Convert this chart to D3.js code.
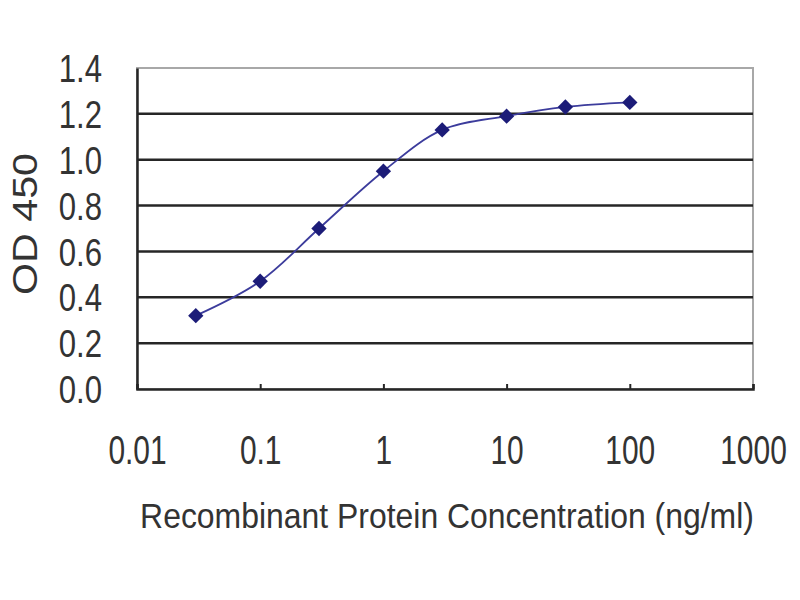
<!DOCTYPE html>
<html>
<head>
<meta charset="utf-8">
<script src="https://cdn.jsdelivr.net/npm/d3@7"></script>
<style>
  body { margin: 0; background: #fff; }
  text { font-family: "Liberation Sans", Arial, sans-serif; fill: #333; }
</style>
</head>
<body>
<div id="chart"></div>
<script>
// concentration (ng/ml) and OD 450 readings
var concentrations = [0.03, 0.1, 0.3, 1, 3, 10, 30, 100];
var odValues = [0.32, 0.47, 0.70, 0.95, 1.13, 1.19, 1.23, 1.25];

var xTicks = [0.01, 0.1, 1, 10, 100, 1000];
var xTickLabels = ["0.01", "0.1", "1", "10", "100", "1000"];
var yTicks = [0, 0.2, 0.4, 0.6, 0.8, 1.0, 1.2, 1.4];

var svgWidth = 800, svgHeight = 600;
var margin = { top: 68, right: 47, bottom: 211, left: 137 };
var width = svgWidth - margin.left - margin.right;
var height = svgHeight - margin.top - margin.bottom;

var svg = d3.select("#chart")
    .append("svg")
    .attr("width", svgWidth)
    .attr("height", svgHeight);

var chartGroup = svg.append("g")
    .attr("transform", `translate(${margin.left}, ${margin.top})`);

var xScale = d3.scaleLog()
    .domain([0.01, 1000])
    .range([0, width]);

var yScale = d3.scaleLinear()
    .domain([0, 1.4])
    .range([height, 0]);

// the original font is narrow: scale text horizontally around its anchor
function narrow(sel, factor, dx, dy) {
    sel.attr("x", 0).attr("y", 0)
        .attr("transform", `translate(${dx || 0}, ${dy || 0}) scale(${factor}, 1)`);
}

// plot frame (top/right light grey)
chartGroup.append("rect")
    .attr("width", width)
    .attr("height", height)
    .attr("fill", "#fff")
    .attr("stroke", "#a8a8a8")
    .attr("stroke-width", 2);

// gridlines
chartGroup.selectAll(".grid")
    .data(yTicks.filter(d => d > 0 && d < 1.4))
    .enter()
    .append("line")
    .attr("x1", 0)
    .attr("x2", width)
    .attr("y1", d => yScale(d))
    .attr("y2", d => yScale(d))
    .attr("stroke", "#262626")
    .attr("stroke-width", 2.5);

// y axis
var yAxis = d3.axisLeft(yScale)
    .tickValues(yTicks)
    .tickSize(0)
    .tickFormat(d3.format(".1f"));

var yG = chartGroup.append("g").call(yAxis);
yG.select(".domain").attr("stroke", "#262626").attr("stroke-width", 2.5);
yG.selectAll("text")
    .attr("font-size", 38)
    .attr("fill", "#333")
    .attr("font-family", "Liberation Sans, Arial, sans-serif")
    .attr("dy", "0.36em");
narrow(yG.selectAll("text"), 0.82, -35, 0);

// x axis
var xAxis = d3.axisBottom(xScale)
    .tickValues(xTicks)
    .tickSize(-5)
    .tickFormat((d, i) => xTickLabels[i]);

var xG = chartGroup.append("g")
    .attr("transform", `translate(0, ${height})`)
    .call(xAxis);
xG.select(".domain").attr("stroke", "#262626").attr("stroke-width", 2.5);
xG.selectAll(".tick line").attr("stroke", "#262626").attr("stroke-width", 2);
xG.selectAll("text")
    .attr("font-size", 41)
    .attr("fill", "#333")
    .attr("font-family", "Liberation Sans, Arial, sans-serif")
    .attr("dy", "0.36em");
narrow(xG.selectAll("text"), 0.73, 0, 60);

// axis titles
var xTitle = svg.append("text")
    .attr("text-anchor", "middle")
    .attr("font-size", 36)
    .text("Recombinant Protein Concentration (ng/ml)");
narrow(xTitle, 614 / xTitle.node().getComputedTextLength(), 447, 528);

var yTitle = svg.append("text")
    .attr("transform", "translate(37, 224) rotate(-90)")
    .attr("text-anchor", "middle")
    .attr("font-size", 35)
    .text("OD 450");
yTitle.attr("textLength", 142).attr("lengthAdjust", "spacingAndGlyphs");

// data
var data = concentrations.map((c, i) => ({ conc: c, od: odValues[i] }));

var line = d3.line()
    .x(d => xScale(d.conc))
    .y(d => yScale(d.od))
    .curve(d3.curveCatmullRom.alpha(0.5));

chartGroup.append("path")
    .datum(data)
    .attr("d", line)
    .attr("fill", "none")
    .attr("stroke", "#3c3c9c")
    .attr("stroke-width", 1.8);

var diamond = d3.symbol().type(d3.symbolDiamond2).size(150);

chartGroup.selectAll(".point")
    .data(data)
    .enter()
    .append("path")
    .attr("d", diamond)
    .attr("transform", d => `translate(${xScale(d.conc)}, ${yScale(d.od)})`)
    .attr("fill", "#1c1c78");
</script>
</body>
</html>
